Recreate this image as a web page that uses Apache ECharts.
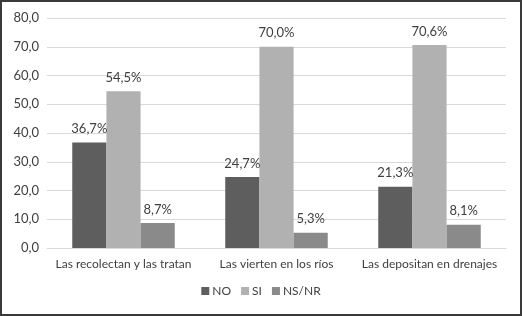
<!DOCTYPE html>
<html>
<head>
<meta charset="utf-8">
<script src="https://cdn.jsdelivr.net/npm/echarts@6/dist/echarts.min.js"></script>
<style>
  html, body { margin: 0; padding: 0; background: #fff; }
  #chart { width: 522px; height: 316px; box-sizing: border-box; border: 2px solid #3a3a3a; }
</style>
</head>
<body>
<div id="chart"></div>
<script>
// datos
var categories = ["Las recolectan y las tratan", "Las vierten en los ríos", "Las depositan en drenajes"];
var seriesNames = ["NO", "SI", "NS/NR"];
var valNO = [36.7, 24.7, 21.3];
var valSI = [54.5, 70.0, 70.6];
var valNSNR = [8.7, 5.3, 8.1];
var colors = ["#5e5e5e", "#b1b1b1", "#8a8a8a"];

var fmt = function (v) { return v.toFixed(1).replace(".", ","); };
var font = "Lato, 'Open Sans', sans-serif";

var chart = echarts.init(document.getElementById("chart"));
var mkSeries = function (name, data, color) {
  return {
    name: name,
    type: "bar",
    data: data,
    barGap: 0,
    barCategoryGap: "33%",
    itemStyle: { color: color },
    label: {
      show: true,
      position: "top",
      distance: 7,
      color: "#404040",
      fontSize: 13,
      fontFamily: font,
      formatter: function (p) { return fmt(p.value) + "%"; }
    }
  };
};

chart.setOption({
  animation: false,
  textStyle: { fontFamily: font },
  grid: { left: 45, right: 14, top: 16, bottom: 66 },
  legend: {
    bottom: 12,
    left: "center",
    itemWidth: 8,
    itemHeight: 8,
    itemGap: 10,
    icon: "rect",
    textStyle: { color: "#404040", fontSize: 12, fontFamily: font, padding: [0, 0, 0, -2] },
    data: seriesNames
  },
  xAxis: {
    type: "category",
    data: categories,
    axisLine: { show: true, lineStyle: { color: "#d9d9d9" } },
    axisTick: { show: false },
    axisLabel: { color: "#404040", fontSize: 12, margin: 10, interval: 0, fontFamily: font }
  },
  yAxis: {
    type: "value",
    min: 0,
    max: 80,
    interval: 10,
    axisLine: { show: false },
    axisTick: { show: false },
    splitLine: { lineStyle: { color: "#d9d9d9", width: 1 } },
    axisLabel: { color: "#404040", fontSize: 13, margin: 8, fontFamily: font, formatter: fmt }
  },
  series: [
    mkSeries(seriesNames[0], valNO, colors[0]),
    mkSeries(seriesNames[1], valSI, colors[1]),
    mkSeries(seriesNames[2], valNSNR, colors[2])
  ]
});
</script>
</body>
</html>
